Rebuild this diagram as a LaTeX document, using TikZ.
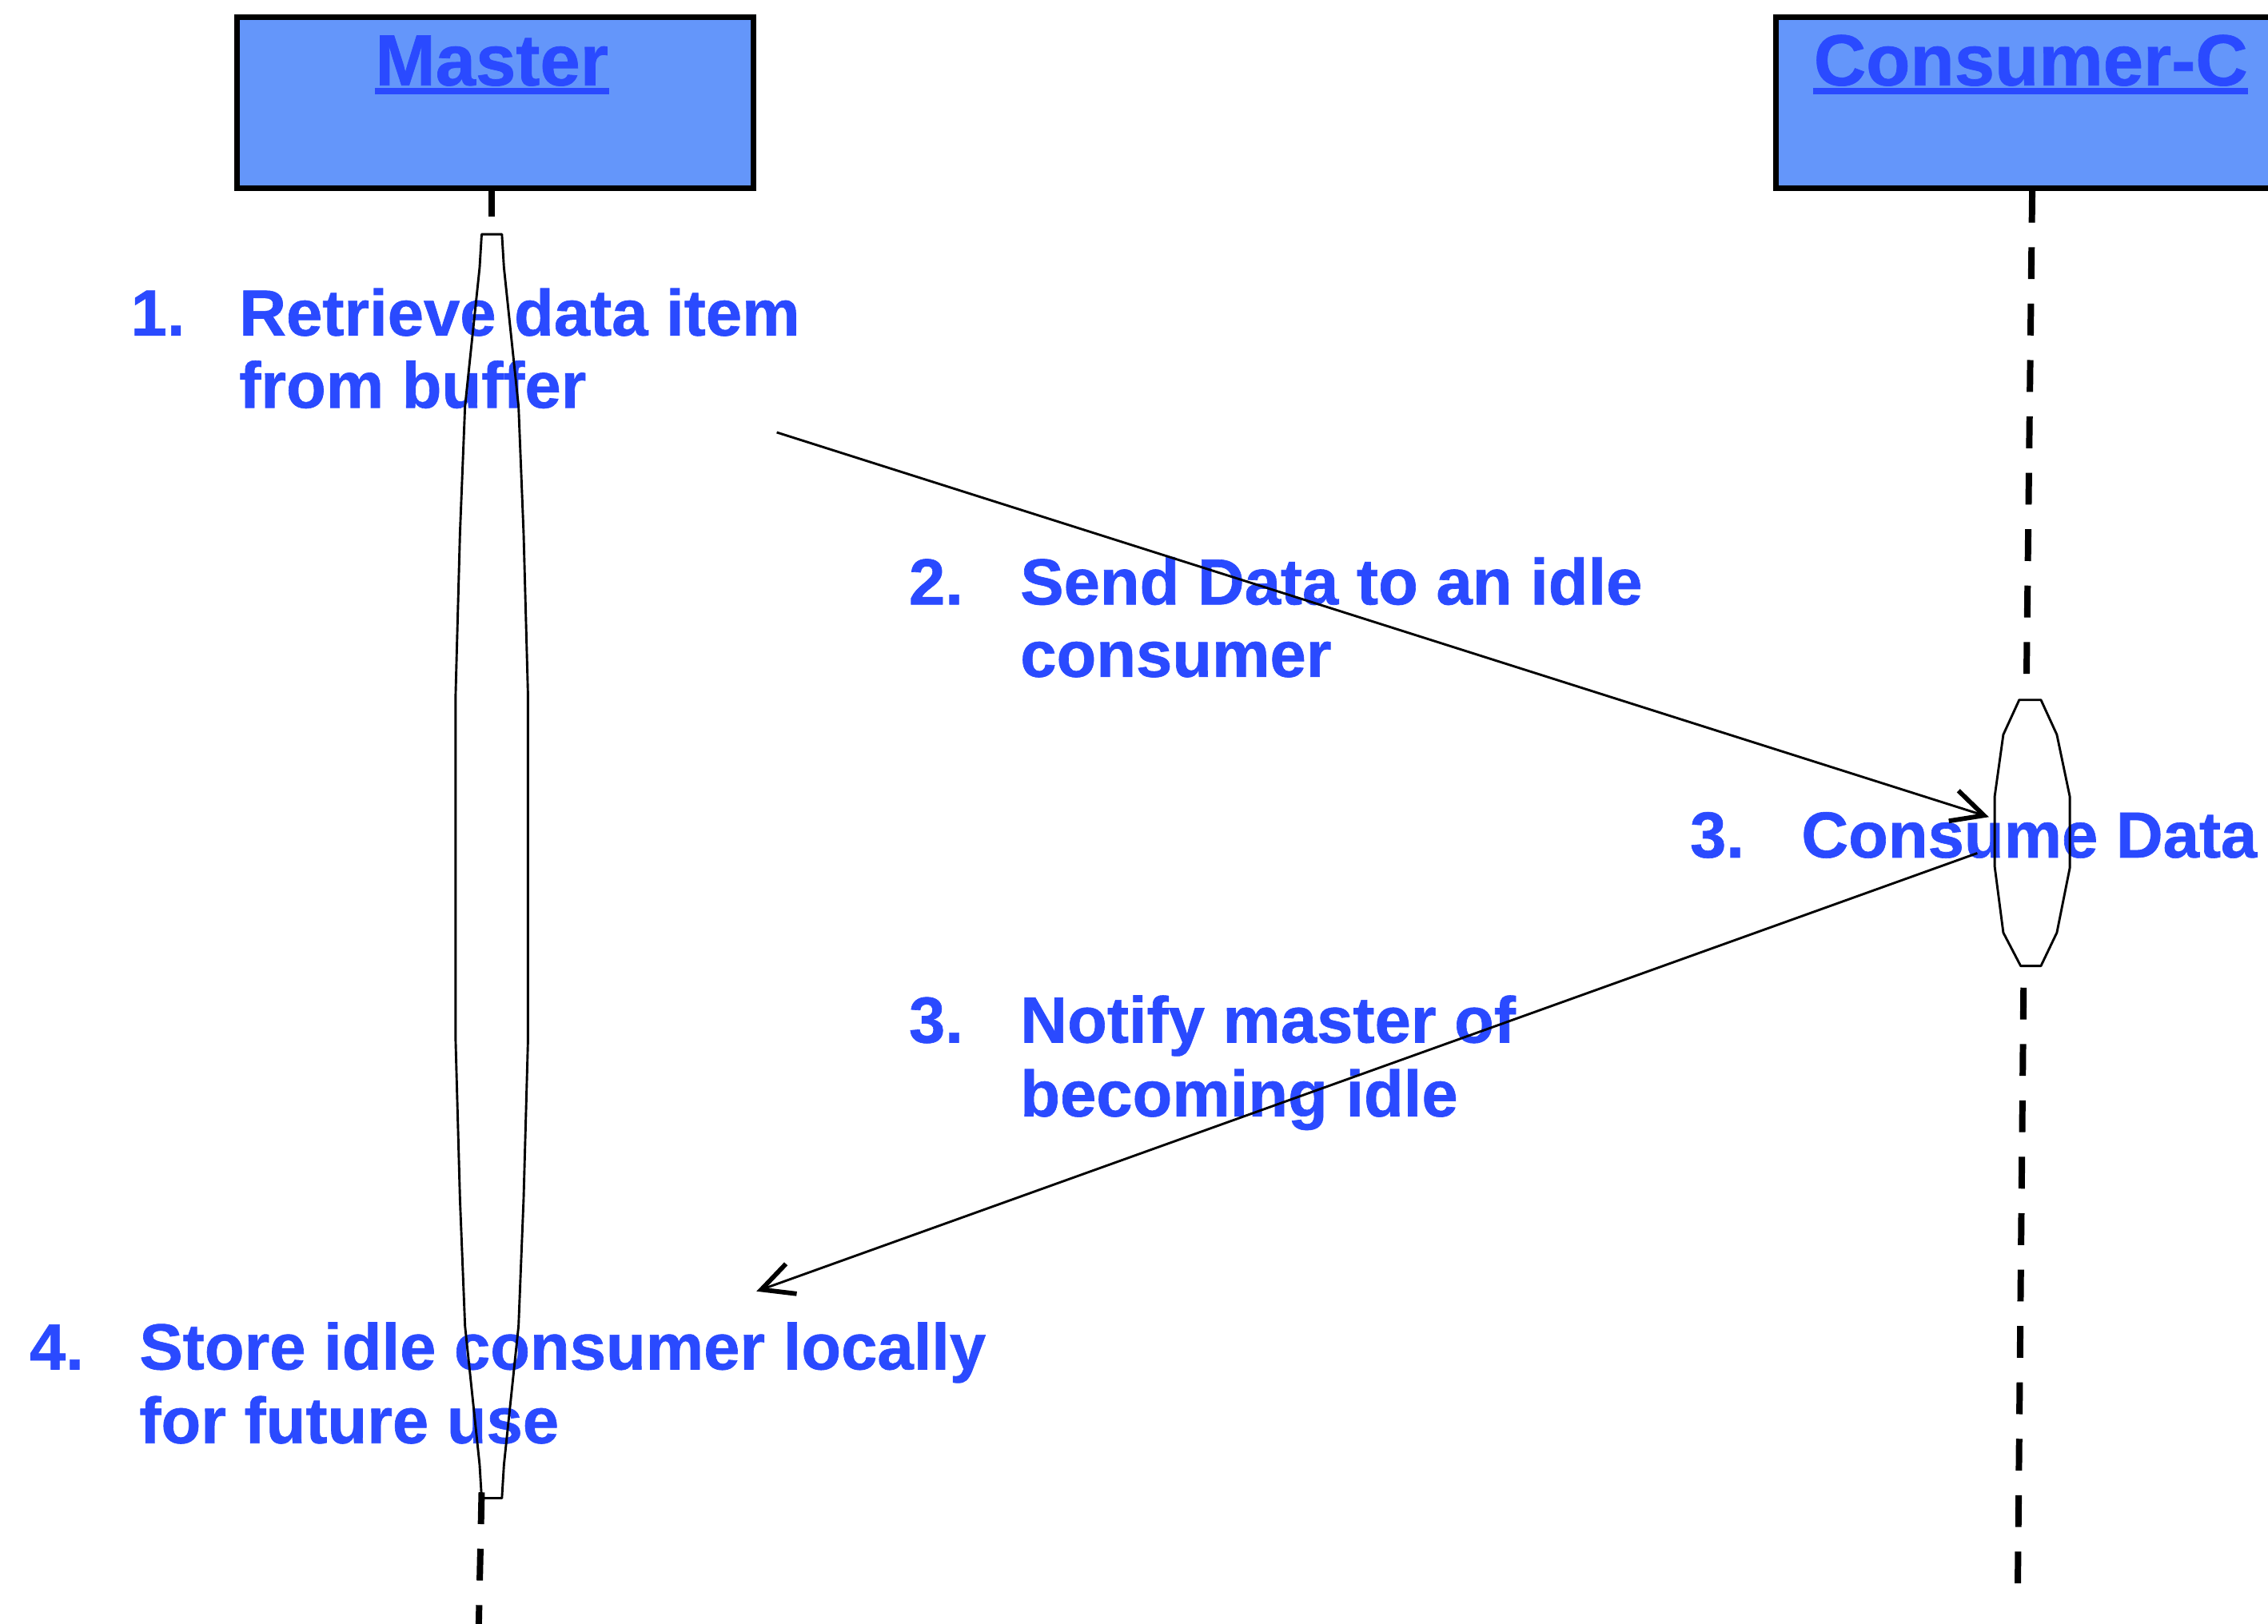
\documentclass[tikz,border=0pt]{standalone}
\usepackage{fontspec}
\setmainfont{Liberation Sans}[BoldFeatures={FakeBold=0.8}]
\usetikzlibrary{arrows.meta}
\definecolor{boxfill}{RGB}{100,150,250}
\definecolor{txtblue}{RGB}{42,74,255}
\begin{document}
\begin{tikzpicture}[x=0.5pt,y=-0.5pt,
  objbox/.style={draw=black, fill=boxfill, line width=2pt, inner sep=0pt, anchor=north west},
  ttl/.style={anchor=base, inner sep=0pt, text=txtblue, font=\fontsize{25}{30}\selectfont\bfseries},
  uline/.style={draw=txtblue, line width=2.4pt},
  lbl/.style={anchor=base west, inner sep=0pt, text=txtblue, font=\fontsize{22.5}{27}\selectfont\bfseries},
  lifeline/.style={line width=2.2pt, dash pattern=on 11pt off 8.5pt},
  actbar/.style={draw=black, line width=0.8pt, line join=round},
  msg/.style={line width=0.8pt, -{Straight Barb[length=11pt,width=11pt,line width=1.6pt]}}
]
\useasboundingbox (0,0) rectangle (1568,1123);
\clip (0,0) rectangle (1568,1123);

% object boxes
\node[objbox, minimum width=178.5pt, minimum height=59pt] (master) at (162,10) {};
\node[objbox, minimum width=177pt, minimum height=59pt] (consumer) at (1226,10) {};
\node[ttl] (mtitle) at (340,59) {Master};
\node[ttl] (ctitle) at (1404,59) {Consumer-C};
\draw[uline] ([yshift=-2pt]mtitle.base west) -- ([yshift=-2pt]mtitle.base east);
\draw[uline] ([yshift=-2pt]ctitle.base west) -- ([yshift=-2pt]ctitle.base east);

% lifelines
\coordinate (ml1) at (340,150);
\coordinate (ml2) at (333,1032);
\coordinate (ml3) at (331,1123);
\coordinate (cl1) at (1401,472);
\coordinate (cl2) at (1399,683);
\coordinate (cl3) at (1395,1097);
\draw[lifeline] (master.south -| ml1) -- (ml1);
\draw[lifeline] (ml2) -- (ml3);
\draw[lifeline] (consumer.south) -- (cl1);
\draw[lifeline] (cl2) -- (cl3);

% texts
\node[lbl] (n1) at (90,232) {1.};
\node[lbl] (t1a) at (165,232) {Retrieve data item};
\node[lbl] (t1b) at (165,282) {from buffer};
\node[lbl] (n2) at (628,418) {2.};
\node[lbl] (t2a) at (705,418) {Send Data to an idle};
\node[lbl] (t2b) at (705,468) {consumer};
\node[lbl] (n3) at (1168,593) {3.};
\node[lbl] (t3a) at (1245,593) {Consume Data};
\node[lbl] (n3b) at (628,721) {3.};
\node[lbl] (t3b) at (705,721) {Notify master of};
\node[lbl] (t3c) at (705,772) {becoming idle};
\node[lbl] (n4) at (20,947) {4.};
\node[lbl] (t4a) at (96,947) {Store idle consumer locally};
\node[lbl] (t4b) at (96,998) {for future use};

% activation bars
\draw[actbar] (333,162) -- (347,162) -- (348.4,185) -- (358.5,281) -- (362,369) -- (365,480)
  -- (365,720) -- (362,829) -- (358.5,917) -- (348.4,1013) -- (347,1036) -- (333,1036)
  -- (331.6,1013) -- (321.5,917) -- (318,829) -- (315,720) -- (315,480) -- (318,369)
  -- (321.5,281) -- (331.6,185) -- cycle;
\draw[actbar] (1396,484) -- (1411,484) -- (1422,508) -- (1431,551) -- (1431,600) -- (1422,645)
  -- (1411,668) -- (1397,668) -- (1385,645) -- (1379,599) -- (1379,551) -- (1385,508) -- cycle;

% messages
\coordinate (s1) at (537,299);
\coordinate (e1) at (1375,565);
\coordinate (s2) at (1367,590);
\coordinate (e2) at (523,893);
\draw[msg] (s1) -- (e1);
\draw[msg] (s2) -- (e2);
\end{tikzpicture}
\end{document}
